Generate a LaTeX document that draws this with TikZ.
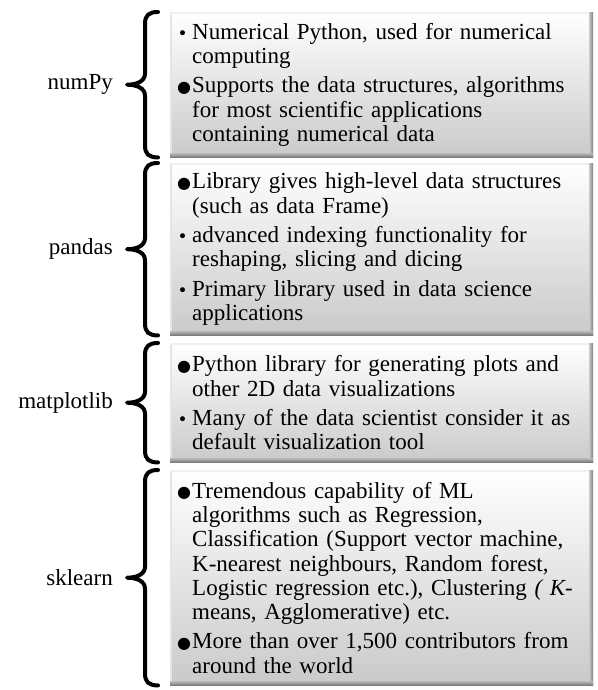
\documentclass[tikz,border=0pt]{standalone}
\usepackage{fontspec}
\setmainfont{Liberation Serif}
\newfontfamily\symfont{DejaVu Sans}

% bullets with a hanging indent for the item text
\newcommand\smallbul{\makebox[15pt][l]{\hspace{0.5pt}\smash{\symfont\fontsize{17}{17}\selectfont •}}}
\newcommand\bigbul{\makebox[15pt][l]{\smash{\raisebox{0.5pt}{\symfont\fontsize{16}{16}\selectfont ●}}}}
\newcommand\indt{\hspace*{15pt}}

% curly brace drawn along the left side of a panel
\newcommand\curlyof[1]{%
  \draw[bracestroke]
    ([xshift=-12pt]#1.north west)
    .. controls ([xshift=-21pt]#1.north west) and ([xshift=-25pt,yshift=-3pt]#1.north west)
    .. ([xshift=-25pt,yshift=-12pt]#1.north west)
    -- ([xshift=-25pt,yshift=11pt]#1.west)
    .. controls ([xshift=-25pt,yshift=3pt]#1.west) and ([xshift=-34pt]#1.west)
    .. ([xshift=-43pt]#1.west)
    .. controls ([xshift=-34pt]#1.west) and ([xshift=-25pt,yshift=-3pt]#1.west)
    .. ([xshift=-25pt,yshift=-11pt]#1.west)
    -- ([xshift=-25pt,yshift=12pt]#1.south west)
    .. controls ([xshift=-25pt,yshift=3pt]#1.south west) and ([xshift=-21pt]#1.south west)
    .. ([xshift=-12pt]#1.south west);}

\begin{document}
\begin{tikzpicture}[x=1pt, y=-1pt,
  panel/.style={rectangle, anchor=north west, minimum width=423pt,
    inner xsep=7pt, inner ysep=0pt, text width=409pt, align=left,
    font=\fontsize{23}{24.3}\selectfont,
    top color=white, bottom color=black!21,
    path picture={
      \fill[black!10] (path picture bounding box.north west)
        rectangle ([xshift=2pt]path picture bounding box.south west);
      \fill[black!6] (path picture bounding box.north west)
        rectangle ([yshift=-1.5pt]path picture bounding box.north east);
      \fill[left color=black!22, right color=black!52]
        ([xshift=-4pt]path picture bounding box.north east)
        rectangle (path picture bounding box.south east);
      \fill[top color=black!28, bottom color=black!52]
        ([yshift=4pt]path picture bounding box.south west)
        rectangle (path picture bounding box.south east);
    }},
  bracestroke/.style={line width=4pt, line cap=round, line join=round},
  lib/.style={anchor=east, inner sep=0pt, font=\fontsize{23}{24.3}\selectfont}]

\useasboundingbox (0,0) rectangle (597,690);

\node[panel, minimum height=145pt] (np) at (170,12)
  {\smallbul Numerical Python, used for numerical\\
   \indt computing\\[5pt]
   \bigbul Supports the data structures, algorithms\\
   \indt for most scientific applications\\
   \indt containing numerical data};

\node[panel, minimum height=172pt] (pd) at (170,163)
  {\bigbul Library gives high-level data structures\\
   \indt (such as data Frame)\\[5pt]
   \smallbul advanced indexing functionality for\\
   \indt reshaping, slicing and dicing\\[5pt]
   \smallbul Primary library used in data science\\
   \indt applications};

\node[panel, minimum height=119pt] (mp) at (170,343)
  {\bigbul Python library for generating plots and\\
   \indt other 2D data visualizations\\[5pt]
   \smallbul Many of the data scientist consider it as\\
   \indt default visualization tool};

\node[panel, minimum height=215pt] (sk) at (170,470)
  {\bigbul Tremendous capability of ML\\
   \indt algorithms such as Regression,\\
   \indt Classification (Support vector machine,\\
   \indt K-nearest neighbours, Random forest,\\
   \indt Logistic regression etc.), Clustering \textit{( K-}\\
   \indt means, Agglomerative) etc.\\[5pt]
   \bigbul More than over 1,500 contributors from\\
   \indt around the world};

\curlyof{np}
\curlyof{pd}
\curlyof{mp}
\curlyof{sk}

\node[lib] (lnp) at ([xshift=-57pt]np.west) {numPy};
\node[lib] (lpd) at ([xshift=-57pt]pd.west) {pandas};
\node[lib] (lmp) at ([xshift=-57pt]mp.west) {matplotlib};
\node[lib] (lsk) at ([xshift=-57pt]sk.west) {sklearn};
\end{tikzpicture}
\end{document}
